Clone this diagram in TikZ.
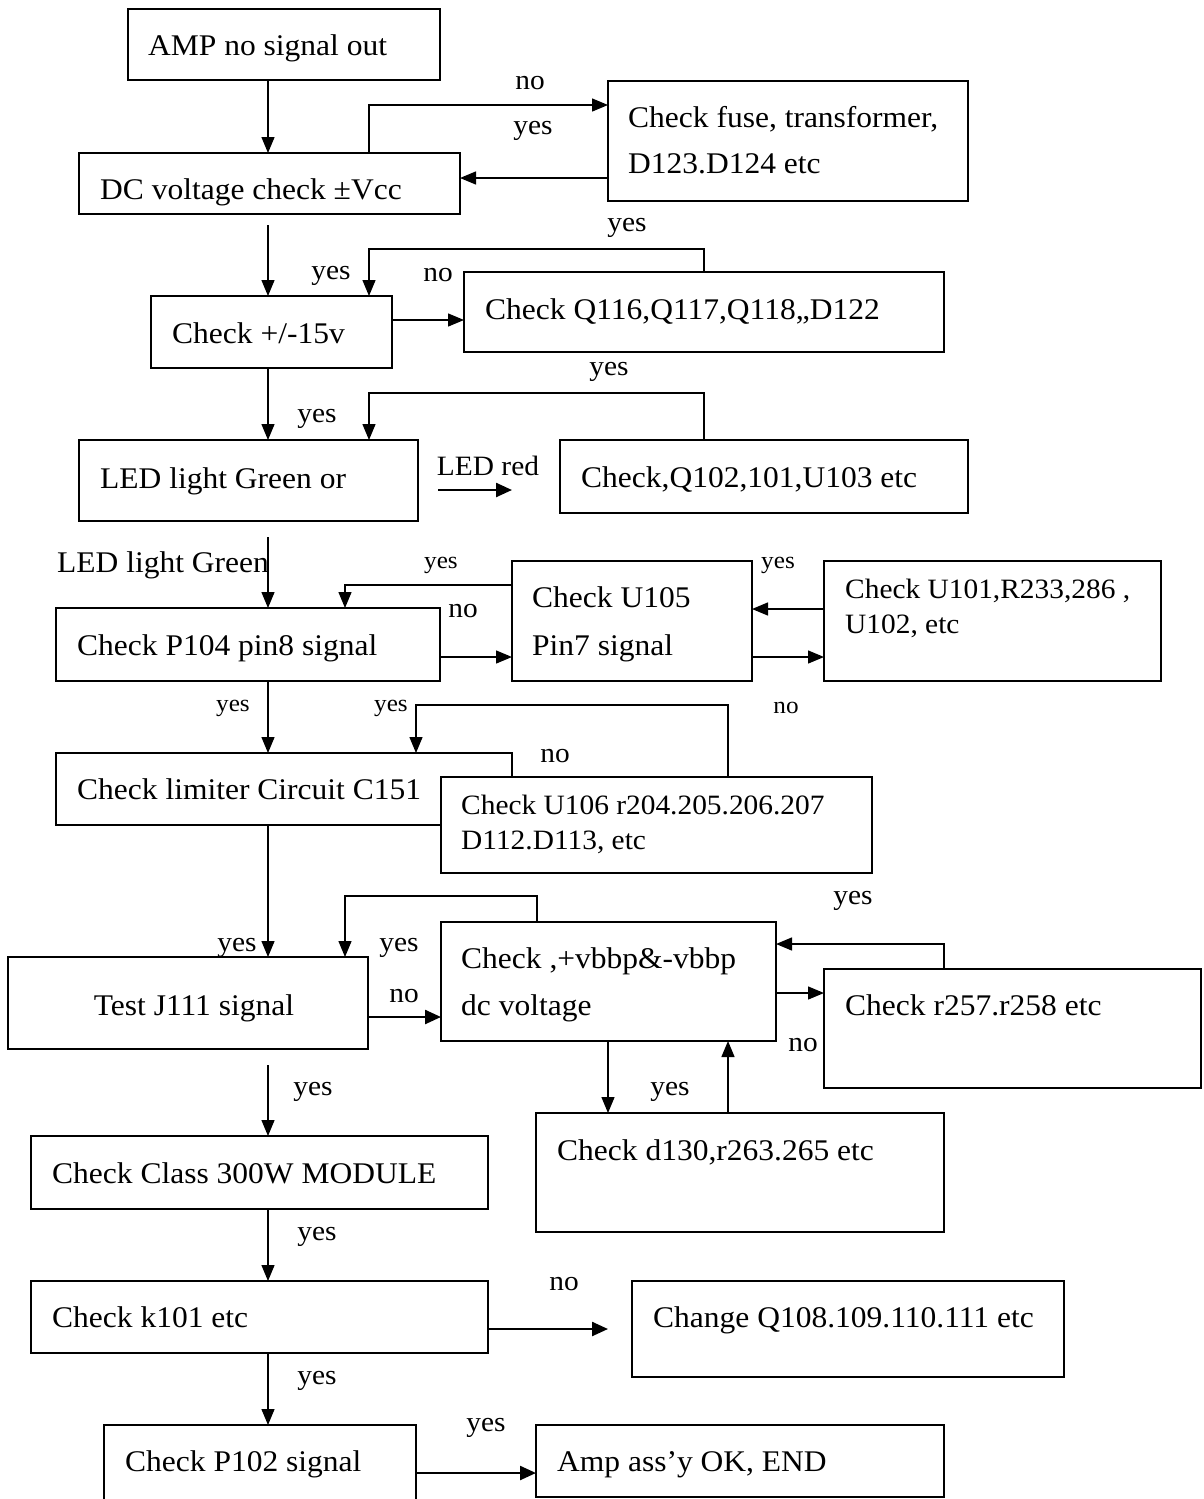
\documentclass[tikz,border=0pt]{standalone}
\usepackage{fontspec}
\setmainfont{Liberation Serif}[FakeStretch=1.05]
\usetikzlibrary{arrows.meta}
\newcommand\mkbox[5]{\node[box, minimum width={(#4)-(#2)}, minimum height={(#5)-(#3)}] (#1) at ({((#2)+(#4))/2},{((#3)+(#5))/2}) {};}
\begin{document}
\begin{tikzpicture}[x=1pt,y=-1pt,
  box/.style={draw, line width=1.8pt, rectangle, inner sep=0pt, outer sep=0pt, fill=white},
  txt/.style={anchor=base west, inner sep=0pt, font=\fontsize{30}{36}\selectfont},
  stxt/.style={anchor=base west, inner sep=0pt, font=\fontsize{28}{34}\selectfont},
  lab/.style={inner sep=0pt, font=\fontsize{28}{34}\selectfont},
  slab/.style={inner sep=0pt, font=\fontsize{24}{28}\selectfont},
  arr/.style={line width=1.4pt, -{Triangle[length=16pt,width=13pt]}},
  arrthick/.style={line width=2.4pt, -{Triangle[length=16pt,width=14pt]}}]
\clip (0,0) rectangle (1203,1499);
\fill[white] (0,0) rectangle (1203,1499);

% boxes
\mkbox{amp}{128}{9}{440}{80}
\mkbox{dc}{79}{153}{460}{214}
\mkbox{fuse}{608}{81}{968}{201}
\mkbox{vf}{151}{296}{392}{368}
\mkbox{qa}{464}{272}{944}{352}
\mkbox{led}{79}{440}{418}{521}
\mkbox{qb}{560}{440}{968}{513}
\mkbox{pa}{56}{608}{440}{681}
\mkbox{ua}{512}{561}{752}{681}
\mkbox{ub}{824}{561}{1161}{681}
\mkbox{lim}{56}{753}{512}{825}
\mkbox{uc}{441}{777}{872}{873}
\mkbox{jt}{8}{957}{368}{1049}
\mkbox{vb}{441}{922}{776}{1041}
\mkbox{rr}{824}{969}{1201}{1088}
\mkbox{dd}{536}{1113}{944}{1232}
\mkbox{cls}{31}{1136}{488}{1209}
\mkbox{kk}{31}{1281}{488}{1353}
\mkbox{chg}{632}{1281}{1064}{1377}
\mkbox{pb}{104}{1425}{416}{1515}
\mkbox{endb}{536}{1425}{944}{1497}

% texts
\node[txt] (t1) at (148,55) {AMP no signal out};
\node[txt] (t2) at (100,199) {DC voltage check ±Vcc};
\node[txt] (t3) at (628,127) {Check fuse, transformer,};
\node[txt] (t4) at (628,173) {D123.D124 etc};
\node[txt] (t5) at (172,343) {Check +/-15v};
\node[txt] (t6) at (485,319) {Check Q116,Q117,Q118,,D122};
\node[txt] (t7) at (100,488) {LED light Green or};
\node[txt] (t8) at (581,487) {Check,Q102,101,U103 etc};
\node[txt] (t9) at (57,572) {LED light Green};
\node[txt] (t10) at (77,655) {Check P104 pin8 signal};
\node[txt] (t11) at (532,607) {Check U105};
\node[txt] (t12) at (532,655) {Pin7 signal};
\node[stxt] (t13) at (845,598) {Check U101,R233,286 ,};
\node[stxt] (t14) at (845,633) {U102, etc};
\node[txt] (t15) at (77,799) {Check limiter Circuit C151};
\node[stxt] (t16) at (461,814) {Check U106 r204.205.206.207};
\node[stxt] (t17) at (461,849) {D112.D113, etc};
\node[txt, anchor=base] (t18) at (194,1015) {Test J111 signal};
\node[txt] (t19) at (461,968) {Check ,+vbbp\&-vbbp};
\node[txt] (t20) at (461,1015) {dc voltage};
\node[txt] (t21) at (845,1015) {Check r257.r258 etc};
\node[txt] (t22) at (557,1160) {Check d130,r263.265 etc};
\node[txt] (t23) at (52,1183) {Check Class 300W MODULE};
\node[txt] (t24) at (52,1327) {Check k101 etc};
\node[txt] (t25) at (653,1327) {Change Q108.109.110.111 etc};
\node[txt] (t26) at (125,1471) {Check P102 signal};
\node[txt] (t27) at (557,1471) {Amp ass’y OK, END};

% labels
\node[lab] (l1) at (530,83) {no};
\node[lab] (l2) at (533,131) {yes};
\node[lab] (l3) at (627,228) {yes};
\node[lab] (l4) at (331,276) {yes};
\node[lab] (l5) at (438,275) {no};
\node[lab] (l6) at (317,419) {yes};
\node[lab] (l7) at (609,372) {yes};
\node[lab] (l8) at (488,466) {LED red};
\node[slab] (l9) at (441,565) {yes};
\node[lab] (l10) at (463,611) {no};
\node[slab] (l11) at (778,565) {yes};
\node[slab] (l12) at (233,708) {yes};
\node[slab] (l13) at (391,708) {yes};
\node[slab] (l14) at (786,708) {no};
\node[lab] (l15) at (555,756) {no};
\node[lab] (l16) at (237,948) {yes};
\node[lab] (l17) at (399,948) {yes};
\node[lab] (l18) at (404,996) {no};
\node[lab] (l19) at (853,901) {yes};
\node[lab] (l20) at (803,1045) {no};
\node[lab] (l21) at (670,1092) {yes};
\node[lab] (l22) at (313,1092) {yes};
\node[lab] (l23) at (317,1237) {yes};
\node[lab] (l24) at (564,1284) {no};
\node[lab] (l25) at (317,1381) {yes};
\node[lab] (l26) at (486,1428) {yes};

% free ends
\coordinate (c1) at (268,225);
\coordinate (lr1) at (438,490);
\coordinate (lr2) at (512,490);
\coordinate (c2) at (268,537);
\coordinate (c3) at (268,1065);
\coordinate (c4) at (608,1329);

% connectors
\draw[arr] (amp.south -| 268,0) -- (dc.north -| 268,0);
\draw[arr] (dc.north -| 369,0) |- (fuse.west |- 0,105);
\draw[arr] (fuse.west |- 0,178) -- (dc.east |- 0,178);
\draw[arr] (c1) -- (vf.north -| c1);
\draw[arr] (vf.east |- 0,320) -- (qa.west |- 0,320);
\draw[arr] (qa.north -| 704,0) -- (704,249) -- (369,249) -- (vf.north -| 369,0);
\draw[arr] (vf.south -| 268,0) -- (led.north -| 268,0);
\draw[arr] (qb.north -| 704,0) -- (704,393) -- (369,393) -- (led.north -| 369,0);
\draw[arrthick] (lr1) -- (lr2);
\draw[arr] (c2) -- (pa.north -| c2);
\draw[arr] (pa.east |- 0,657) -- (ua.west |- 0,657);
\draw[arr] (ua.west |- 0,585) -- (345,585) -- (pa.north -| 345,0);
\draw[arr] (ua.east |- 0,657) -- (ub.west |- 0,657);
\draw[arr] (ub.west |- 0,609) -- (ua.east |- 0,609);
\draw[arr] (pa.south -| 268,0) -- (lim.north -| 268,0);
\draw[arr] (uc.north -| 728,0) -- (728,705) -- (416,705) -- (lim.north -| 416,0);
\draw[arr] (lim.south -| 268,0) -- (jt.north -| 268,0);
\draw[arrthick] (jt.east |- 0,1017) -- (vb.west |- 0,1017);
\draw[arr] (vb.north -| 537,0) -- (537,896) -- (345,896) -- (jt.north -| 345,0);
\draw[arr] (vb.east |- 0,993) -- (rr.west |- 0,993);
\draw[arr] (rr.north -| 944,0) -- (944,944) -- (vb.east |- 0,944);
\draw[arr] (vb.south -| 608,0) -- (dd.north -| 608,0);
\draw[arr] (dd.north -| 728,0) -- (vb.south -| 728,0);
\draw[arr] (c3) -- (cls.north -| c3);
\draw[arr] (cls.south -| 268,0) -- (kk.north -| 268,0);
\draw[arrthick] (kk.east |- c4) -- (c4);
\draw[arr] (kk.south -| 268,0) -- (pb.north -| 268,0);
\draw[arrthick] (pb.east |- 0,1473) -- (endb.west |- 0,1473);
\end{tikzpicture}
\end{document}
